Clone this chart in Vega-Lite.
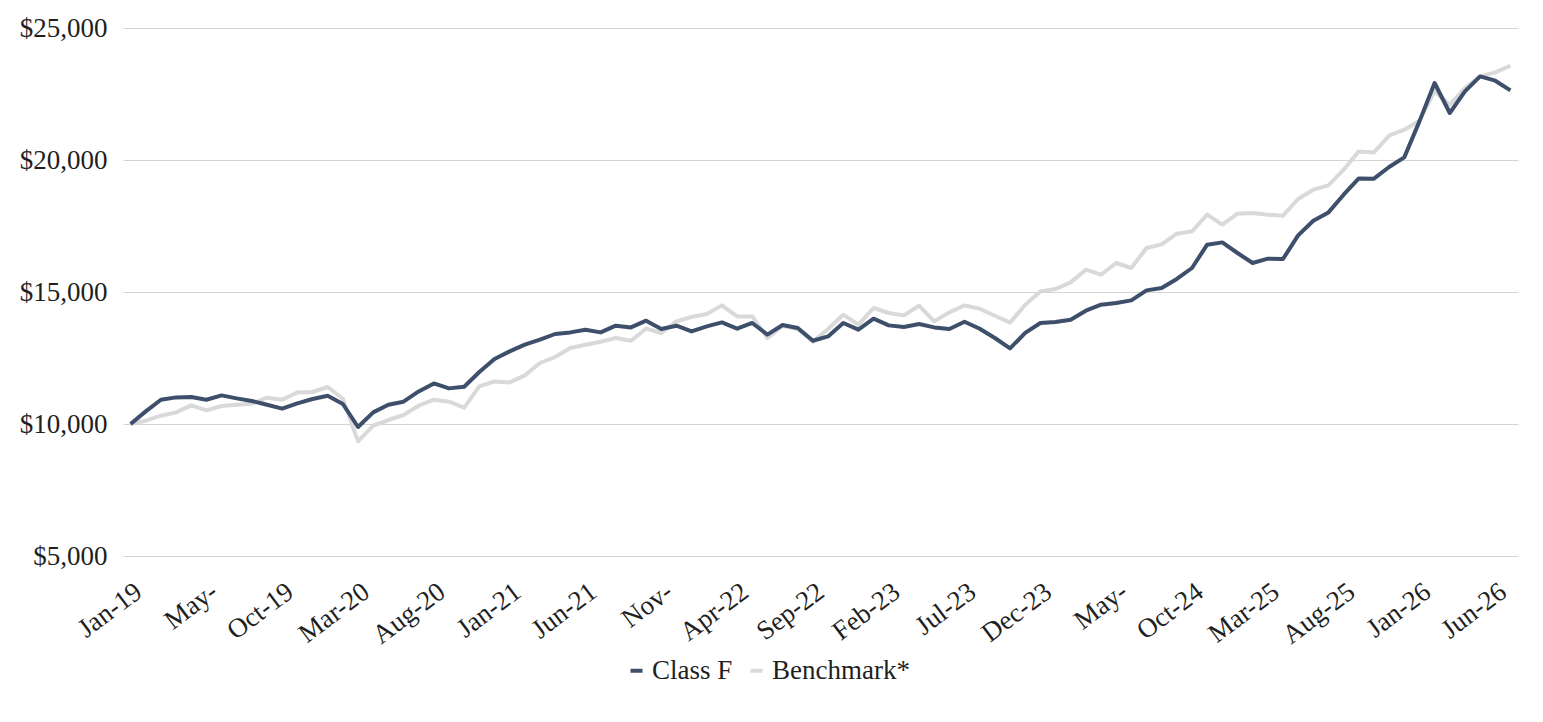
{
  "$schema": "https://vega.github.io/schema/vega-lite/v6.json",
  "autosize": "none",
  "width": 1395,
  "height": 528,
  "padding": {"left": 123, "top": 28, "right": 25, "bottom": 166},
  "background": "#ffffff",
  "config": {
    "view": {"stroke": null},
    "font": "Liberation Serif",
    "axis": {"labelFont": "Liberation Serif", "labelFontSize": 27, "labelColor": "#1f1f1f"},
    "legend": {"labelFont": "Liberation Serif", "labelFontSize": 27, "labelColor": "#1f1f1f"}
  },
  "datasets": {
    "perf": [
      {"i":0,"series":"Class F","value":10000},{"i":1,"series":"Class F","value":10477},{"i":2,"series":"Class F","value":10920},{"i":3,"series":"Class F","value":11008},{"i":4,"series":"Class F","value":11023},{"i":5,"series":"Class F","value":10920},{"i":6,"series":"Class F","value":11084},{"i":7,"series":"Class F","value":10970},{"i":8,"series":"Class F","value":10871},{"i":9,"series":"Class F","value":10731},
      {"i":10,"series":"Class F","value":10580},{"i":11,"series":"Class F","value":10780},{"i":12,"series":"Class F","value":10947},{"i":13,"series":"Class F","value":11072},{"i":14,"series":"Class F","value":10758},{"i":15,"series":"Class F","value":9886},{"i":16,"series":"Class F","value":10440},{"i":17,"series":"Class F","value":10731},{"i":18,"series":"Class F","value":10845},{"i":19,"series":"Class F","value":11235},
      {"i":20,"series":"Class F","value":11538},{"i":21,"series":"Class F","value":11349},{"i":22,"series":"Class F","value":11413},{"i":23,"series":"Class F","value":11970},{"i":24,"series":"Class F","value":12462},{"i":25,"series":"Class F","value":12750},{"i":26,"series":"Class F","value":13004},{"i":27,"series":"Class F","value":13193},{"i":28,"series":"Class F","value":13409},{"i":29,"series":"Class F","value":13470},
      {"i":30,"series":"Class F","value":13572},{"i":31,"series":"Class F","value":13470},{"i":32,"series":"Class F","value":13724},{"i":33,"series":"Class F","value":13659},{"i":34,"series":"Class F","value":13913},{"i":35,"series":"Class F","value":13598},{"i":36,"series":"Class F","value":13724},{"i":37,"series":"Class F","value":13508},{"i":38,"series":"Class F","value":13697},{"i":39,"series":"Class F","value":13849},
      {"i":40,"series":"Class F","value":13610},{"i":41,"series":"Class F","value":13826},{"i":42,"series":"Class F","value":13383},{"i":43,"series":"Class F","value":13750},{"i":44,"series":"Class F","value":13636},{"i":45,"series":"Class F","value":13155},{"i":46,"series":"Class F","value":13319},{"i":47,"series":"Class F","value":13826},{"i":48,"series":"Class F","value":13572},{"i":49,"series":"Class F","value":13989},
      {"i":50,"series":"Class F","value":13736},{"i":51,"series":"Class F","value":13674},{"i":52,"series":"Class F","value":13788},{"i":53,"series":"Class F","value":13659},{"i":54,"series":"Class F","value":13598},{"i":55,"series":"Class F","value":13875},{"i":56,"series":"Class F","value":13610},{"i":57,"series":"Class F","value":13258},{"i":58,"series":"Class F","value":12865},{"i":59,"series":"Class F","value":13450},
      {"i":60,"series":"Class F","value":13826},{"i":61,"series":"Class F","value":13864},{"i":62,"series":"Class F","value":13951},{"i":63,"series":"Class F","value":14292},{"i":64,"series":"Class F","value":14519},{"i":65,"series":"Class F","value":14583},{"i":66,"series":"Class F","value":14682},{"i":67,"series":"Class F","value":15061},{"i":68,"series":"Class F","value":15152},{"i":69,"series":"Class F","value":15493},
      {"i":70,"series":"Class F","value":15909},{"i":71,"series":"Class F","value":16792},{"i":72,"series":"Class F","value":16879},{"i":73,"series":"Class F","value":16477},{"i":74,"series":"Class F","value":16099},{"i":75,"series":"Class F","value":16262},{"i":76,"series":"Class F","value":16250},{"i":77,"series":"Class F","value":17144},{"i":78,"series":"Class F","value":17701},{"i":79,"series":"Class F","value":18015},
      {"i":80,"series":"Class F","value":18686},{"i":81,"series":"Class F","value":19303},{"i":82,"series":"Class F","value":19292},{"i":83,"series":"Class F","value":19735},{"i":84,"series":"Class F","value":20099},{"i":85,"series":"Class F","value":21463},{"i":86,"series":"Class F","value":22917},{"i":87,"series":"Class F","value":21781},{"i":88,"series":"Class F","value":22599},{"i":89,"series":"Class F","value":23167},
      {"i":90,"series":"Class F","value":23004},{"i":91,"series":"Class F","value":22637},
      {"i":0,"series":"Benchmark*","value":10000},{"i":1,"series":"Benchmark*","value":10125},{"i":2,"series":"Benchmark*","value":10314},{"i":3,"series":"Benchmark*","value":10440},{"i":4,"series":"Benchmark*","value":10705},{"i":5,"series":"Benchmark*","value":10515},{"i":6,"series":"Benchmark*","value":10682},{"i":7,"series":"Benchmark*","value":10731},{"i":8,"series":"Benchmark*","value":10769},{"i":9,"series":"Benchmark*","value":10996},
      {"i":10,"series":"Benchmark*","value":10920},{"i":11,"series":"Benchmark*","value":11197},{"i":12,"series":"Benchmark*","value":11212},{"i":13,"series":"Benchmark*","value":11402},{"i":14,"series":"Benchmark*","value":10958},{"i":15,"series":"Benchmark*","value":9341},{"i":16,"series":"Benchmark*","value":9936},{"i":17,"series":"Benchmark*","value":10151},{"i":18,"series":"Benchmark*","value":10341},{"i":19,"series":"Benchmark*","value":10693},
      {"i":20,"series":"Benchmark*","value":10920},{"i":21,"series":"Benchmark*","value":10845},{"i":22,"series":"Benchmark*","value":10617},{"i":23,"series":"Benchmark*","value":11424},{"i":24,"series":"Benchmark*","value":11614},{"i":25,"series":"Benchmark*","value":11576},{"i":26,"series":"Benchmark*","value":11841},{"i":27,"series":"Benchmark*","value":12311},{"i":28,"series":"Benchmark*","value":12538},{"i":29,"series":"Benchmark*","value":12879},
      {"i":30,"series":"Benchmark*","value":13004},{"i":31,"series":"Benchmark*","value":13118},{"i":32,"series":"Benchmark*","value":13258},{"i":33,"series":"Benchmark*","value":13155},{"i":34,"series":"Benchmark*","value":13610},{"i":35,"series":"Benchmark*","value":13447},{"i":36,"series":"Benchmark*","value":13887},{"i":37,"series":"Benchmark*","value":14053},{"i":38,"series":"Benchmark*","value":14167},{"i":39,"series":"Benchmark*","value":14493},
      {"i":40,"series":"Benchmark*","value":14076},{"i":41,"series":"Benchmark*","value":14076},{"i":42,"series":"Benchmark*","value":13250},{"i":43,"series":"Benchmark*","value":13720},{"i":44,"series":"Benchmark*","value":13600},{"i":45,"series":"Benchmark*","value":13115},{"i":46,"series":"Benchmark*","value":13598},{"i":47,"series":"Benchmark*","value":14140},{"i":48,"series":"Benchmark*","value":13761},{"i":49,"series":"Benchmark*","value":14394},
      {"i":50,"series":"Benchmark*","value":14205},{"i":51,"series":"Benchmark*","value":14114},{"i":52,"series":"Benchmark*","value":14481},{"i":53,"series":"Benchmark*","value":13887},{"i":54,"series":"Benchmark*","value":14228},{"i":55,"series":"Benchmark*","value":14493},{"i":56,"series":"Benchmark*","value":14367},{"i":57,"series":"Benchmark*","value":14102},{"i":58,"series":"Benchmark*","value":13840},{"i":59,"series":"Benchmark*","value":14519},
      {"i":60,"series":"Benchmark*","value":15023},{"i":61,"series":"Benchmark*","value":15114},{"i":62,"series":"Benchmark*","value":15364},{"i":63,"series":"Benchmark*","value":15845},{"i":64,"series":"Benchmark*","value":15655},{"i":65,"series":"Benchmark*","value":16099},{"i":66,"series":"Benchmark*","value":15909},{"i":67,"series":"Benchmark*","value":16667},{"i":68,"series":"Benchmark*","value":16805},{"i":69,"series":"Benchmark*","value":17209},
      {"i":70,"series":"Benchmark*","value":17296},{"i":71,"series":"Benchmark*","value":17929},{"i":72,"series":"Benchmark*","value":17549},{"i":73,"series":"Benchmark*","value":17966},{"i":74,"series":"Benchmark*","value":17992},{"i":75,"series":"Benchmark*","value":17929},{"i":76,"series":"Benchmark*","value":17890},{"i":77,"series":"Benchmark*","value":18523},{"i":78,"series":"Benchmark*","value":18875},{"i":79,"series":"Benchmark*","value":19038},
      {"i":80,"series":"Benchmark*","value":19633},{"i":81,"series":"Benchmark*","value":20326},{"i":82,"series":"Benchmark*","value":20288},{"i":83,"series":"Benchmark*","value":20921},{"i":84,"series":"Benchmark*","value":21148},{"i":85,"series":"Benchmark*","value":21489},{"i":86,"series":"Benchmark*","value":22599},{"i":87,"series":"Benchmark*","value":22095},{"i":88,"series":"Benchmark*","value":22728},{"i":89,"series":"Benchmark*","value":23167},
      {"i":90,"series":"Benchmark*","value":23319},{"i":91,"series":"Benchmark*","value":23572}
    ]
  },
  "data": {"name": "perf"},
  "encoding": {
    "x": {
      "field": "i",
      "type": "quantitative",
      "scale": {"domain": [-0.5, 91.5], "nice": false, "zero": false},
      "axis": {
        "title": null,
        "grid": false,
        "domain": false,
        "ticks": false,
        "values": [0,5,10,15,20,25,30,35,40,45,50,55,60,65,70,75,80,85,90],
        "labelExpr": "['Jan-19','May-','Oct-19','Mar-20','Aug-20','Jan-21','Jun-21','Nov-','Apr-22','Sep-22','Feb-23','Jul-23','Dec-23','May-','Oct-24','Mar-25','Aug-25','Jan-26','Jun-26'][round(datum.value/5)]",
        "labelAngle": -37,
        "labelPadding": 22,
        "labelOverlap": false,
        "labelFlush": false
      }
    },
    "y": {
      "field": "value",
      "type": "quantitative",
      "scale": {"domain": [5000, 25000], "nice": false, "zero": false},
      "axis": {
        "title": null,
        "values": [5000, 10000, 15000, 20000, 25000],
        "format": "$,.0f",
        "domain": false,
        "ticks": false,
        "gridColor": "#d4d4d4",
        "gridWidth": 1,
        "labelPadding": 16
      }
    },
    "color": {
      "field": "series",
      "type": "nominal",
      "scale": {"domain": ["Class F", "Benchmark*"], "range": ["#3d4f6b", "#d9d9d9"]},
      "legend": {
        "title": null,
        "orient": "none",
        "direction": "horizontal",
        "legendX": 500,
        "legendY": 629,
        "symbolType": "stroke",
        "symbolSize": 144,
        "symbolStrokeWidth": 4,
        "labelOffset": 2,
        "columnPadding": 9
      }
    }
  },
  "layer": [
    {
      "transform": [{"filter": "datum.series === 'Benchmark*'"}],
      "mark": {"type": "line", "strokeWidth": 4, "strokeJoin": "round"}
    },
    {
      "transform": [{"filter": "datum.series === 'Class F'"}],
      "mark": {"type": "line", "strokeWidth": 4, "strokeJoin": "round"}
    }
  ]
}
